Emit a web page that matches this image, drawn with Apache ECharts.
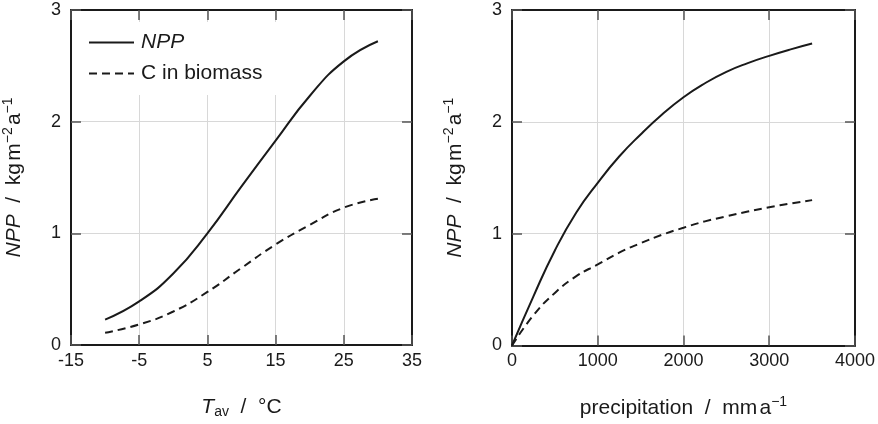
<!DOCTYPE html>
<html>
<head>
<meta charset="utf-8">
<script src="https://cdn.jsdelivr.net/npm/echarts@6/dist/echarts.min.js"></script>
<style>
html,body{margin:0;padding:0;background:#fff;}
#chart{width:878px;height:424px;}
</style>
</head>
<body>
<div id="chart"></div>
<script>
// Left panel: mean annual temperature (°C)
const tempC = [-10, -5, 0, 5, 10, 15, 20, 25, 30];
const nppTemp = [0.227, 0.39, 0.64, 1.0, 1.42, 1.83, 2.23, 2.54, 2.72];
const biomassTemp = [0.11, 0.184, 0.30, 0.475, 0.69, 0.90, 1.075, 1.23, 1.31];
// Right panel: annual precipitation (mm/a)
const precipMm = [0, 250, 500, 750, 1000, 1250, 1500, 1750, 2000, 2250, 2500, 2750, 3000, 3250, 3500];
const nppPrecip = [0, 0.44, 0.85, 1.19, 1.455, 1.69, 1.887, 2.065, 2.22, 2.345, 2.447, 2.525, 2.59, 2.648, 2.70];
const biomassPrecip = [0, 0.27, 0.47, 0.62, 0.725, 0.83, 0.915, 0.99, 1.053, 1.11, 1.155, 1.198, 1.236, 1.27, 1.30];
// Axis ticks
const yTicks = [0, 1, 2, 3];
const tempTicks = [-15, -5, 5, 15, 25, 35];
const precipTicks = [0, 1000, 2000, 3000, 4000];

const FONT = 'Liberation Sans, Arial, Helvetica, sans-serif';
const INK = '#1a1a1a';
const pairs = (xs, ys) => xs.map((x, i) => [x, ys[i]]);

const chart = echarts.init(document.getElementById('chart'), null, {renderer: 'canvas'});

const frameLine = {show: true, onZero: false, lineStyle: {color: INK, width: 2}};
const tickIn = {show: true, inside: true, length: 10, lineStyle: {color: '#555', width: 1.5}};
const grid = {show: true, lineStyle: {color: '#d8d8d8', width: 1}};
const labelStyle = {color: INK, fontSize: 18, fontFamily: FONT};

const yName = '{i|NPP}  /  kg{t| }m{s|−2}{t| }a{s|−1}';
const nameRich = {
  i: {fontStyle: 'italic', fontSize: 21, fontFamily: FONT, color: INK},
  s: {fontSize: 14, fontFamily: FONT, color: INK, padding: [0, 0, 12, 0]},
  sub: {fontSize: 14, fontFamily: FONT, color: INK, padding: [10, 0, 0, 0]},
  t: {fontSize: 8, fontFamily: FONT}
};
const nameStyle = {color: INK, fontSize: 21, fontFamily: FONT, rich: nameRich};

function xPair(gridIndex, min, max, interval, ticks, name) {
  return [
    {type: 'value', gridIndex, position: 'bottom', min, max, interval,
     axisLine: frameLine, axisTick: tickIn, splitLine: grid,
     axisLabel: Object.assign({margin: 7, formatter: v => ticks.includes(v) ? String(v) : ''}, labelStyle),
     name, nameLocation: 'middle', nameGap: 50, nameTextStyle: nameStyle},
    {type: 'value', gridIndex, position: 'top', min, max, interval,
     axisLine: frameLine, axisTick: tickIn, splitLine: {show: false}, axisLabel: {show: false}}
  ];
}
function yPair(gridIndex) {
  return [
    {type: 'value', gridIndex, position: 'left', min: 0, max: 3, interval: 1,
     axisLine: frameLine, axisTick: tickIn, splitLine: grid,
     axisLabel: Object.assign({margin: 10, formatter: v => yTicks.includes(v) ? String(v) : ''}, labelStyle),
     name: yName, nameLocation: 'middle', nameGap: 44, nameRotate: 90, nameTextStyle: nameStyle},
    {type: 'value', gridIndex, position: 'right', min: 0, max: 3, interval: 1,
     axisLine: frameLine, axisTick: tickIn, splitLine: {show: false}, axisLabel: {show: false}}
  ];
}

const solid = {color: INK, width: 2, type: 'solid', cap: 'butt'};
const dashed = {color: INK, width: 2, type: [8, 5], cap: 'butt'};
function line(name, xi, yi, data, style) {
  return {name, type: 'line', xAxisIndex: xi, yAxisIndex: yi, data,
    showSymbol: false, symbol: 'none', smooth: 0.5,
    lineStyle: style, itemStyle: {color: INK}, animation: false, z: 3};
}

chart.setOption({
  backgroundColor: '#fff',
  animation: false,
  grid: [
    {left: 67, top: 10, width: 345, height: 344, containLabel: false},
    {left: 512, top: 10, width: 344, height: 344, containLabel: false}
  ],
  xAxis: [
    ...xPair(0, -15, 35, 10, tempTicks, '{i|T}{sub|av}  /  °C'),
    ...xPair(1, 0, 4000, 1000, precipTicks, 'precipitation  /  mm{t| }a{s|−1}')
  ],
  yAxis: [...yPair(0), ...yPair(1)],
  legend: {
    data: ['NPP', 'C in biomass'],
    left: 72, top: 22, orient: 'vertical',
    backgroundColor: '#fff',
    padding: [10, 26, 11, 16],
    itemWidth: 45, itemHeight: 2, itemGap: 10,
    selectedMode: false,
    itemStyle: {opacity: 0},
    textStyle: {color: INK, fontSize: 21, fontFamily: FONT, padding: [0, 0, 0, 2],
      rich: {i: {fontStyle: 'italic', fontSize: 21, fontFamily: FONT, color: INK}}},
    formatter: n => n === 'NPP' ? '{i|NPP}' : n
  },
  series: [
    line('NPP', 0, 0, pairs(tempC, nppTemp), solid),
    line('C in biomass', 0, 0, pairs(tempC, biomassTemp), dashed),
    line('NPP', 2, 2, pairs(precipMm, nppPrecip), solid),
    line('C in biomass', 2, 2, pairs(precipMm, biomassPrecip), dashed)
  ]
});
</script>
</body>
</html>
